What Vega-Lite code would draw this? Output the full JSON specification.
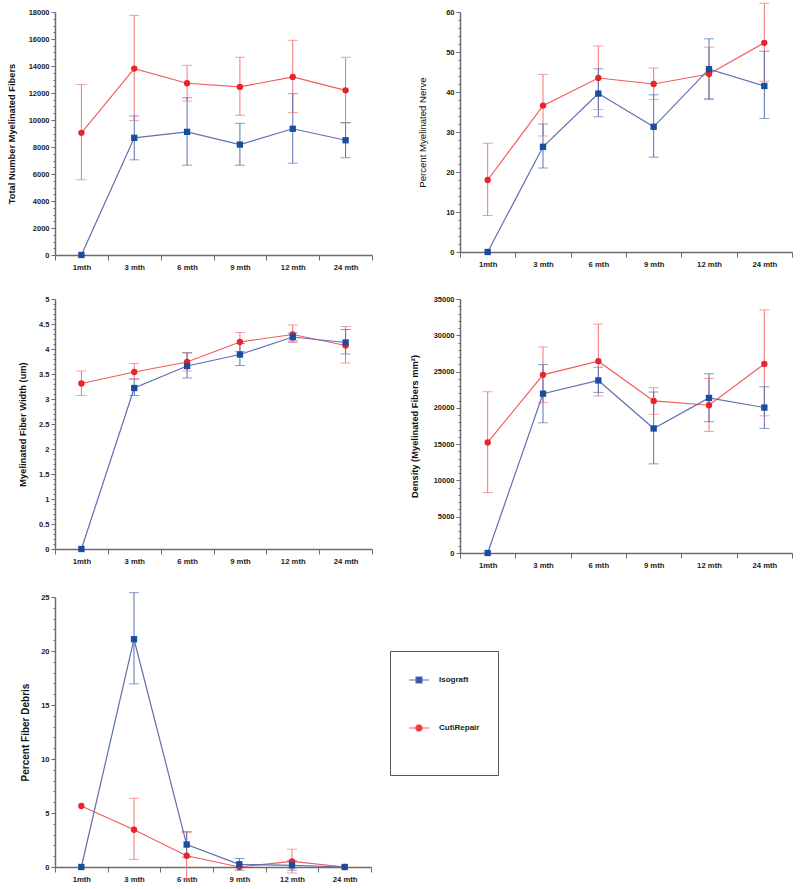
{
  "$schema": "https://vega.github.io/schema/vega-lite/v6.json",
  "padding": {"left": 7, "top": 2, "right": 5, "bottom": 5},
  "background": "white",
  "config": {
    "view": {"stroke": null},
    "axis": {"labelFont": "Liberation Sans", "labelFontWeight": "bold", "labelColor": "#222", "titleFont": "Liberation Sans", "titleFontWeight": "bold", "titleColor": "#111", "domainColor": "#6b6b6b", "tickColor": "#6b6b6b", "grid": false, "domainWidth": 1.5},
    "axisX": {"title": null, "tickBand": "extent", "labelAngle": 0, "labelFontSize": 7.7, "labelPadding": 3, "tickSize": 5},
    "axisY": {"labelFontSize": 7.5, "labelPadding": 2, "titlePadding": 12, "labelOverlap": false, "titleFontSize": 9.3, "tickCount": 100}
  },
  "datasets": {
    "p1": [
      {"month": "1mth", "series": "Cut\\Repair", "mean": 9050, "lo": 5570, "hi": 12630},
      {"month": "3 mth", "series": "Cut\\Repair", "mean": 13810, "lo": 9950, "hi": 17750},
      {"month": "6 mth", "series": "Cut\\Repair", "mean": 12720, "lo": 11400, "hi": 14050},
      {"month": "9 mth", "series": "Cut\\Repair", "mean": 12450, "lo": 10350, "hi": 14650},
      {"month": "12 mth", "series": "Cut\\Repair", "mean": 13190, "lo": 10550, "hi": 15900},
      {"month": "24 mth", "series": "Cut\\Repair", "mean": 12200, "lo": 9800, "hi": 14650},
      {"month": "1mth", "series": "Isograft", "mean": 0, "lo": null, "hi": null},
      {"month": "3 mth", "series": "Isograft", "mean": 8680, "lo": 7050, "hi": 10300},
      {"month": "6 mth", "series": "Isograft", "mean": 9120, "lo": 6650, "hi": 11650},
      {"month": "9 mth", "series": "Isograft", "mean": 8180, "lo": 6650, "hi": 9750},
      {"month": "12 mth", "series": "Isograft", "mean": 9350, "lo": 6800, "hi": 11950},
      {"month": "24 mth", "series": "Isograft", "mean": 8500, "lo": 7200, "hi": 9800}
    ],
    "p2": [
      {"month": "1mth", "series": "Cut\\Repair", "mean": 18.0, "lo": 9.1, "hi": 27.2},
      {"month": "3 mth", "series": "Cut\\Repair", "mean": 36.6, "lo": 29.0, "hi": 44.4},
      {"month": "6 mth", "series": "Cut\\Repair", "mean": 43.5, "lo": 35.6, "hi": 51.5},
      {"month": "9 mth", "series": "Cut\\Repair", "mean": 42.0, "lo": 38.1, "hi": 46.0},
      {"month": "12 mth", "series": "Cut\\Repair", "mean": 44.5, "lo": 38.1, "hi": 51.2},
      {"month": "24 mth", "series": "Cut\\Repair", "mean": 52.3, "lo": 42.7, "hi": 62.2},
      {"month": "1mth", "series": "Isograft", "mean": 0, "lo": null, "hi": null},
      {"month": "3 mth", "series": "Isograft", "mean": 26.3, "lo": 21.0, "hi": 32.0},
      {"month": "6 mth", "series": "Isograft", "mean": 39.6, "lo": 33.8, "hi": 45.8},
      {"month": "9 mth", "series": "Isograft", "mean": 31.3, "lo": 23.7, "hi": 39.3},
      {"month": "12 mth", "series": "Isograft", "mean": 45.7, "lo": 38.3, "hi": 53.3},
      {"month": "24 mth", "series": "Isograft", "mean": 41.5, "lo": 33.4, "hi": 50.2}
    ],
    "p3": [
      {"month": "1mth", "series": "Cut\\Repair", "mean": 3.31, "lo": 3.07, "hi": 3.56},
      {"month": "3 mth", "series": "Cut\\Repair", "mean": 3.54, "lo": 3.40, "hi": 3.71},
      {"month": "6 mth", "series": "Cut\\Repair", "mean": 3.74, "lo": 3.56, "hi": 3.93},
      {"month": "9 mth", "series": "Cut\\Repair", "mean": 4.14, "lo": 3.95, "hi": 4.33},
      {"month": "12 mth", "series": "Cut\\Repair", "mean": 4.29, "lo": 4.13, "hi": 4.48},
      {"month": "24 mth", "series": "Cut\\Repair", "mean": 4.07, "lo": 3.72, "hi": 4.45},
      {"month": "1mth", "series": "Isograft", "mean": 0, "lo": null, "hi": null},
      {"month": "3 mth", "series": "Isograft", "mean": 3.22, "lo": 3.07, "hi": 3.40},
      {"month": "6 mth", "series": "Isograft", "mean": 3.66, "lo": 3.42, "hi": 3.92},
      {"month": "9 mth", "series": "Isograft", "mean": 3.89, "lo": 3.67, "hi": 4.11},
      {"month": "12 mth", "series": "Isograft", "mean": 4.24, "lo": 4.16, "hi": 4.32},
      {"month": "24 mth", "series": "Isograft", "mean": 4.13, "lo": 3.90, "hi": 4.39}
    ],
    "p4": [
      {"month": "1mth", "series": "Cut\\Repair", "mean": 15240, "lo": 8350, "hi": 22230},
      {"month": "3 mth", "series": "Cut\\Repair", "mean": 24550, "lo": 20720, "hi": 28390},
      {"month": "6 mth", "series": "Cut\\Repair", "mean": 26430, "lo": 21630, "hi": 31540},
      {"month": "9 mth", "series": "Cut\\Repair", "mean": 20950, "lo": 19120, "hi": 22770},
      {"month": "12 mth", "series": "Cut\\Repair", "mean": 20360, "lo": 16750, "hi": 24050},
      {"month": "24 mth", "series": "Cut\\Repair", "mean": 26060, "lo": 18900, "hi": 33500},
      {"month": "1mth", "series": "Isograft", "mean": 0, "lo": null, "hi": null},
      {"month": "3 mth", "series": "Isograft", "mean": 21950, "lo": 17940, "hi": 25970},
      {"month": "6 mth", "series": "Isograft", "mean": 23780, "lo": 22130, "hi": 25600},
      {"month": "9 mth", "series": "Isograft", "mean": 17160, "lo": 12280, "hi": 22180},
      {"month": "12 mth", "series": "Isograft", "mean": 21360, "lo": 18100, "hi": 24690},
      {"month": "24 mth", "series": "Isograft", "mean": 20040, "lo": 17160, "hi": 22910}
    ],
    "p5": [
      {"month": "1mth", "series": "Cut\\Repair", "mean": 5.65, "lo": null, "hi": null},
      {"month": "3 mth", "series": "Cut\\Repair", "mean": 3.45, "lo": 0.70, "hi": 6.36},
      {"month": "6 mth", "series": "Cut\\Repair", "mean": 1.04, "lo": -1.1, "hi": 3.21},
      {"month": "9 mth", "series": "Cut\\Repair", "mean": 0, "lo": null, "hi": null},
      {"month": "12 mth", "series": "Cut\\Repair", "mean": 0.52, "lo": -0.55, "hi": 1.65},
      {"month": "24 mth", "series": "Cut\\Repair", "mean": 0, "lo": null, "hi": null},
      {"month": "1mth", "series": "Isograft", "mean": 0, "lo": null, "hi": null},
      {"month": "3 mth", "series": "Isograft", "mean": 21.09, "lo": 16.96, "hi": 25.40},
      {"month": "6 mth", "series": "Isograft", "mean": 2.08, "lo": 0.9, "hi": 3.27},
      {"month": "9 mth", "series": "Isograft", "mean": 0.25, "lo": -0.3, "hi": 0.79},
      {"month": "12 mth", "series": "Isograft", "mean": 0.15, "lo": -0.3, "hi": 0.6},
      {"month": "24 mth", "series": "Isograft", "mean": 0, "lo": null, "hi": null}
    ]
  },
  "bounds": "flush",
  "align": "each",
  "columns": 2,
  "spacing": {"row": 44, "column": 88},
  "concat": [
    {
      "width": 317, "height": 243,
      "data": {"name": "p1"},
      "encoding": {"x": {"field": "month", "type": "nominal", "sort": ["1mth", "3 mth", "6 mth", "9 mth", "12 mth", "24 mth"], "scale": {"type": "band", "paddingInner": 0, "paddingOuter": 0}}},
      "layer": [
        {"mark": {"type": "rule", "strokeWidth": 1},
         "encoding": {"y": {"field": "lo", "type": "quantitative", "scale": {"domain": [0, 18000], "nice": false, "zero": false},
           "axis": {"title": "Total Number Myelinated Fibers", "titlePadding": 12, "labelOverlap": false, "tickCount": 100, "values": [0,500,1000,1500,2000,2500,3000,3500,4000,4500,5000,5500,6000,6500,7000,7500,8000,8500,9000,9500,10000,10500,11000,11500,12000,12500,13000,13500,14000,14500,15000,15500,16000,16500,17000,17500,18000],
             "labelExpr": "datum.value % 2000 === 0 ? format(datum.value, '~g') : ''",
             "tickSize": {"condition": {"test": "datum.value % 2000 === 0", "value": 4}, "value": 2}}},
           "y2": {"field": "hi"},
           "color": {"condition": {"test": "datum.series === 'Isograft'", "value": "#5a70b0"}, "value": "#f27575"}}},
        {"mark": {"type": "tick", "size": 10, "thickness": 1},
         "encoding": {"y": {"field": "lo", "type": "quantitative"},
           "color": {"condition": {"test": "datum.series === 'Isograft'", "value": "#5a70b0"}, "value": "#f27575"}}},
        {"mark": {"type": "tick", "size": 10, "thickness": 1},
         "encoding": {"y": {"field": "hi", "type": "quantitative"},
           "color": {"condition": {"test": "datum.series === 'Isograft'", "value": "#5a70b0"}, "value": "#f27575"}}},
        {"mark": {"type": "line", "strokeWidth": 1.2},
         "encoding": {"y": {"field": "mean", "type": "quantitative"}, "detail": {"field": "series"},
           "color": {"condition": {"test": "datum.series === 'Isograft'", "value": "#5f6fb2"}, "value": "#f25c5c"}}},
        {"mark": {"type": "point", "filled": true, "opacity": 1, "size": 40},
         "encoding": {"y": {"field": "mean", "type": "quantitative"},
           "shape": {"condition": {"test": "datum.series === 'Isograft'", "value": "square"}, "value": "circle"},
           "color": {"condition": {"test": "datum.series === 'Isograft'", "value": "#1b4d9e"}, "value": "#e8232b"}}}
      ]
    },
    {
      "width": 332, "height": 240,
      "data": {"name": "p2"},
      "encoding": {"x": {"field": "month", "type": "nominal", "sort": ["1mth", "3 mth", "6 mth", "9 mth", "12 mth", "24 mth"], "scale": {"type": "band", "paddingInner": 0, "paddingOuter": 0}}},
      "layer": [
        {"mark": {"type": "rule", "strokeWidth": 1},
         "encoding": {"y": {"field": "lo", "type": "quantitative", "scale": {"domain": [0, 60], "nice": false, "zero": false},
           "axis": {"title": "Percent Myelinated Nerve", "titlePadding": 18, "labelOverlap": false, "tickCount": 100, "titleFontWeight": "normal", "titleFontSize": 9.6, "values": [0,2,4,6,8,10,12,14,16,18,20,22,24,26,28,30,32,34,36,38,40,42,44,46,48,50,52,54,56,58,60],
             "labelExpr": "datum.value % 10 === 0 ? format(datum.value, '~g') : ''",
             "tickSize": {"condition": {"test": "datum.value % 10 === 0", "value": 4}, "value": 2}}},
           "y2": {"field": "hi"},
           "color": {"condition": {"test": "datum.series === 'Isograft'", "value": "#5a70b0"}, "value": "#f27575"}}},
        {"mark": {"type": "tick", "size": 10, "thickness": 1},
         "encoding": {"y": {"field": "lo", "type": "quantitative"},
           "color": {"condition": {"test": "datum.series === 'Isograft'", "value": "#5a70b0"}, "value": "#f27575"}}},
        {"mark": {"type": "tick", "size": 10, "thickness": 1},
         "encoding": {"y": {"field": "hi", "type": "quantitative"},
           "color": {"condition": {"test": "datum.series === 'Isograft'", "value": "#5a70b0"}, "value": "#f27575"}}},
        {"mark": {"type": "line", "strokeWidth": 1.2},
         "encoding": {"y": {"field": "mean", "type": "quantitative"}, "detail": {"field": "series"},
           "color": {"condition": {"test": "datum.series === 'Isograft'", "value": "#5f6fb2"}, "value": "#f25c5c"}}},
        {"mark": {"type": "point", "filled": true, "opacity": 1, "size": 40},
         "encoding": {"y": {"field": "mean", "type": "quantitative"},
           "shape": {"condition": {"test": "datum.series === 'Isograft'", "value": "square"}, "value": "circle"},
           "color": {"condition": {"test": "datum.series === 'Isograft'", "value": "#1b4d9e"}, "value": "#e8232b"}}}
      ]
    },
    {
      "width": 317, "height": 250,
      "data": {"name": "p3"},
      "encoding": {"x": {"field": "month", "type": "nominal", "sort": ["1mth", "3 mth", "6 mth", "9 mth", "12 mth", "24 mth"], "scale": {"type": "band", "paddingInner": 0, "paddingOuter": 0}}},
      "layer": [
        {"mark": {"type": "rule", "strokeWidth": 1},
         "encoding": {"y": {"field": "lo", "type": "quantitative", "scale": {"domain": [0, 5], "nice": false, "zero": false},
           "axis": {"title": "Myelinated Fiber Width (um)", "titlePadding": 11, "labelOverlap": false, "tickCount": 100, "values": [0,0.1,0.2,0.3,0.4,0.5,0.6,0.7,0.8,0.9,1,1.1,1.2,1.3,1.4,1.5,1.6,1.7,1.8,1.9,2,2.1,2.2,2.3,2.4,2.5,2.6,2.7,2.8,2.9,3,3.1,3.2,3.3,3.4,3.5,3.6,3.7,3.8,3.9,4,4.1,4.2,4.3,4.4,4.5,4.6,4.7,4.8,4.9,5],
             "labelExpr": "abs(datum.value * 2 - round(datum.value * 2)) < 0.001 ? format(datum.value, '~g') : ''",
             "tickSize": {"condition": {"test": "abs(datum.value * 2 - round(datum.value * 2)) < 0.001", "value": 4}, "value": 2}}},
           "y2": {"field": "hi"},
           "color": {"condition": {"test": "datum.series === 'Isograft'", "value": "#5a70b0"}, "value": "#f27575"}}},
        {"mark": {"type": "tick", "size": 10, "thickness": 1},
         "encoding": {"y": {"field": "lo", "type": "quantitative"},
           "color": {"condition": {"test": "datum.series === 'Isograft'", "value": "#5a70b0"}, "value": "#f27575"}}},
        {"mark": {"type": "tick", "size": 10, "thickness": 1},
         "encoding": {"y": {"field": "hi", "type": "quantitative"},
           "color": {"condition": {"test": "datum.series === 'Isograft'", "value": "#5a70b0"}, "value": "#f27575"}}},
        {"mark": {"type": "line", "strokeWidth": 1.2},
         "encoding": {"y": {"field": "mean", "type": "quantitative"}, "detail": {"field": "series"},
           "color": {"condition": {"test": "datum.series === 'Isograft'", "value": "#5f6fb2"}, "value": "#f25c5c"}}},
        {"mark": {"type": "point", "filled": true, "opacity": 1, "size": 40},
         "encoding": {"y": {"field": "mean", "type": "quantitative"},
           "shape": {"condition": {"test": "datum.series === 'Isograft'", "value": "square"}, "value": "circle"},
           "color": {"condition": {"test": "datum.series === 'Isograft'", "value": "#1b4d9e"}, "value": "#e8232b"}}}
      ]
    },
    {
      "width": 332, "height": 254,
      "data": {"name": "p4"},
      "encoding": {"x": {"field": "month", "type": "nominal", "sort": ["1mth", "3 mth", "6 mth", "9 mth", "12 mth", "24 mth"], "scale": {"type": "band", "paddingInner": 0, "paddingOuter": 0}}},
      "layer": [
        {"mark": {"type": "rule", "strokeWidth": 1},
         "encoding": {"y": {"field": "lo", "type": "quantitative", "scale": {"domain": [0, 35000], "nice": false, "zero": false},
           "axis": {"title": "Density (Myelinated Fibers mm\u00b2)", "titlePadding": 14, "labelOverlap": false, "tickCount": 100, "values": [0,1000,2000,3000,4000,5000,6000,7000,8000,9000,10000,11000,12000,13000,14000,15000,16000,17000,18000,19000,20000,21000,22000,23000,24000,25000,26000,27000,28000,29000,30000,31000,32000,33000,34000,35000],
             "labelExpr": "datum.value % 5000 === 0 ? format(datum.value, '~g') : ''",
             "tickSize": {"condition": {"test": "datum.value % 5000 === 0", "value": 4}, "value": 2}}},
           "y2": {"field": "hi"},
           "color": {"condition": {"test": "datum.series === 'Isograft'", "value": "#5a70b0"}, "value": "#f27575"}}},
        {"mark": {"type": "tick", "size": 10, "thickness": 1},
         "encoding": {"y": {"field": "lo", "type": "quantitative"},
           "color": {"condition": {"test": "datum.series === 'Isograft'", "value": "#5a70b0"}, "value": "#f27575"}}},
        {"mark": {"type": "tick", "size": 10, "thickness": 1},
         "encoding": {"y": {"field": "hi", "type": "quantitative"},
           "color": {"condition": {"test": "datum.series === 'Isograft'", "value": "#5a70b0"}, "value": "#f27575"}}},
        {"mark": {"type": "line", "strokeWidth": 1.2},
         "encoding": {"y": {"field": "mean", "type": "quantitative"}, "detail": {"field": "series"},
           "color": {"condition": {"test": "datum.series === 'Isograft'", "value": "#5f6fb2"}, "value": "#f25c5c"}}},
        {"mark": {"type": "point", "filled": true, "opacity": 1, "size": 40},
         "encoding": {"y": {"field": "mean", "type": "quantitative"},
           "shape": {"condition": {"test": "datum.series === 'Isograft'", "value": "square"}, "value": "circle"},
           "color": {"condition": {"test": "datum.series === 'Isograft'", "value": "#1b4d9e"}, "value": "#e8232b"}}}
      ]
    },
    {
      "width": 316, "height": 270,
      "data": {"name": "p5"},
      "encoding": {"x": {"field": "month", "type": "nominal", "sort": ["1mth", "3 mth", "6 mth", "9 mth", "12 mth", "24 mth"], "scale": {"type": "band", "paddingInner": 0, "paddingOuter": 0}}},
      "layer": [
        {"mark": {"type": "rule", "strokeWidth": 1},
         "encoding": {"y": {"field": "lo", "type": "quantitative", "scale": {"domain": [0, 25], "nice": false, "zero": false},
           "axis": {"title": "Percent Fiber Debris", "titlePadding": 10, "labelOverlap": false, "tickCount": 100, "titleFontSize": 10, "values": [0,1,2,3,4,5,6,7,8,9,10,11,12,13,14,15,16,17,18,19,20,21,22,23,24,25],
             "labelExpr": "datum.value % 5 === 0 ? format(datum.value, '~g') : ''",
             "tickSize": {"condition": {"test": "datum.value % 5 === 0", "value": 4}, "value": 2}}},
           "y2": {"field": "hi"},
           "color": {"condition": {"test": "datum.series === 'Isograft'", "value": "#5a70b0"}, "value": "#f27575"}}},
        {"mark": {"type": "tick", "size": 10, "thickness": 1},
         "encoding": {"y": {"field": "lo", "type": "quantitative"},
           "color": {"condition": {"test": "datum.series === 'Isograft'", "value": "#5a70b0"}, "value": "#f27575"}}},
        {"mark": {"type": "tick", "size": 10, "thickness": 1},
         "encoding": {"y": {"field": "hi", "type": "quantitative"},
           "color": {"condition": {"test": "datum.series === 'Isograft'", "value": "#5a70b0"}, "value": "#f27575"}}},
        {"mark": {"type": "line", "strokeWidth": 1.2},
         "encoding": {"y": {"field": "mean", "type": "quantitative"}, "detail": {"field": "series"},
           "color": {"condition": {"test": "datum.series === 'Isograft'", "value": "#5f6fb2"}, "value": "#f25c5c"}}},
        {"mark": {"type": "point", "filled": true, "opacity": 1, "size": 40},
         "encoding": {"y": {"field": "mean", "type": "quantitative"},
           "shape": {"condition": {"test": "datum.series === 'Isograft'", "value": "square"}, "value": "circle"},
           "color": {"condition": {"test": "datum.series === 'Isograft'", "value": "#1b4d9e"}, "value": "#e8232b"}}},
        {"transform": [{"filter": "false"}],
         "mark": {"type": "point", "filled": true, "opacity": 1},
         "encoding": {"y": {"field": "mean", "type": "quantitative"},
           "fill": {"field": "series", "type": "nominal", "scale": {"domain": ["Isograft", "Cut\\Repair"], "range": ["#1b4d9e", "#e8232b"]},
             "legend": {"title": "\u00a0", "titleOrient": "bottom", "orient": "none", "legendX": 335, "legendY": 639, "strokeColor": "#555", "padding": 18, "symbolSize": 400, "symbolStrokeWidth": 1.2, "symbolOpacity": 1, "labelFont": "Liberation Sans", "labelFontWeight": "bold", "labelFontSize": 8, "labelColor": "#222", "labelOffset": 9, "rowPadding": 31, "titleFontSize": 10, "titlePadding": 13, "direction": "vertical"}},
           "stroke": {"field": "series", "type": "nominal", "scale": {"domain": ["Isograft", "Cut\\Repair"], "range": ["#5f6fb2", "#f25c5c"]},
             "legend": {"title": "\u00a0", "titleOrient": "bottom", "orient": "none", "legendX": 335, "legendY": 639, "strokeColor": "#555", "padding": 18, "symbolSize": 400, "symbolStrokeWidth": 1.2, "symbolOpacity": 1, "labelFont": "Liberation Sans", "labelFontWeight": "bold", "labelFontSize": 8, "labelColor": "#222", "labelOffset": 9, "rowPadding": 31, "titleFontSize": 10, "titlePadding": 13, "direction": "vertical"}},
           "shape": {"field": "series", "type": "nominal", "scale": {"domain": ["Isograft", "Cut\\Repair"], "range": ["M-1,0H1M-0.3,-0.3H0.3V0.3H-0.3Z", "M-1,0H1M-0.32,0A0.32,0.32 0 1,0 0.32,0A0.32,0.32 0 1,0 -0.32,0Z"]},
             "legend": {"title": "\u00a0", "titleOrient": "bottom", "orient": "none", "legendX": 335, "legendY": 639, "strokeColor": "#555", "padding": 18, "symbolSize": 400, "symbolStrokeWidth": 1.2, "symbolOpacity": 1, "labelFont": "Liberation Sans", "labelFontWeight": "bold", "labelFontSize": 8, "labelColor": "#222", "labelOffset": 9, "rowPadding": 31, "titleFontSize": 10, "titlePadding": 13, "direction": "vertical"}}}}
      ]
    }
  ]
}
